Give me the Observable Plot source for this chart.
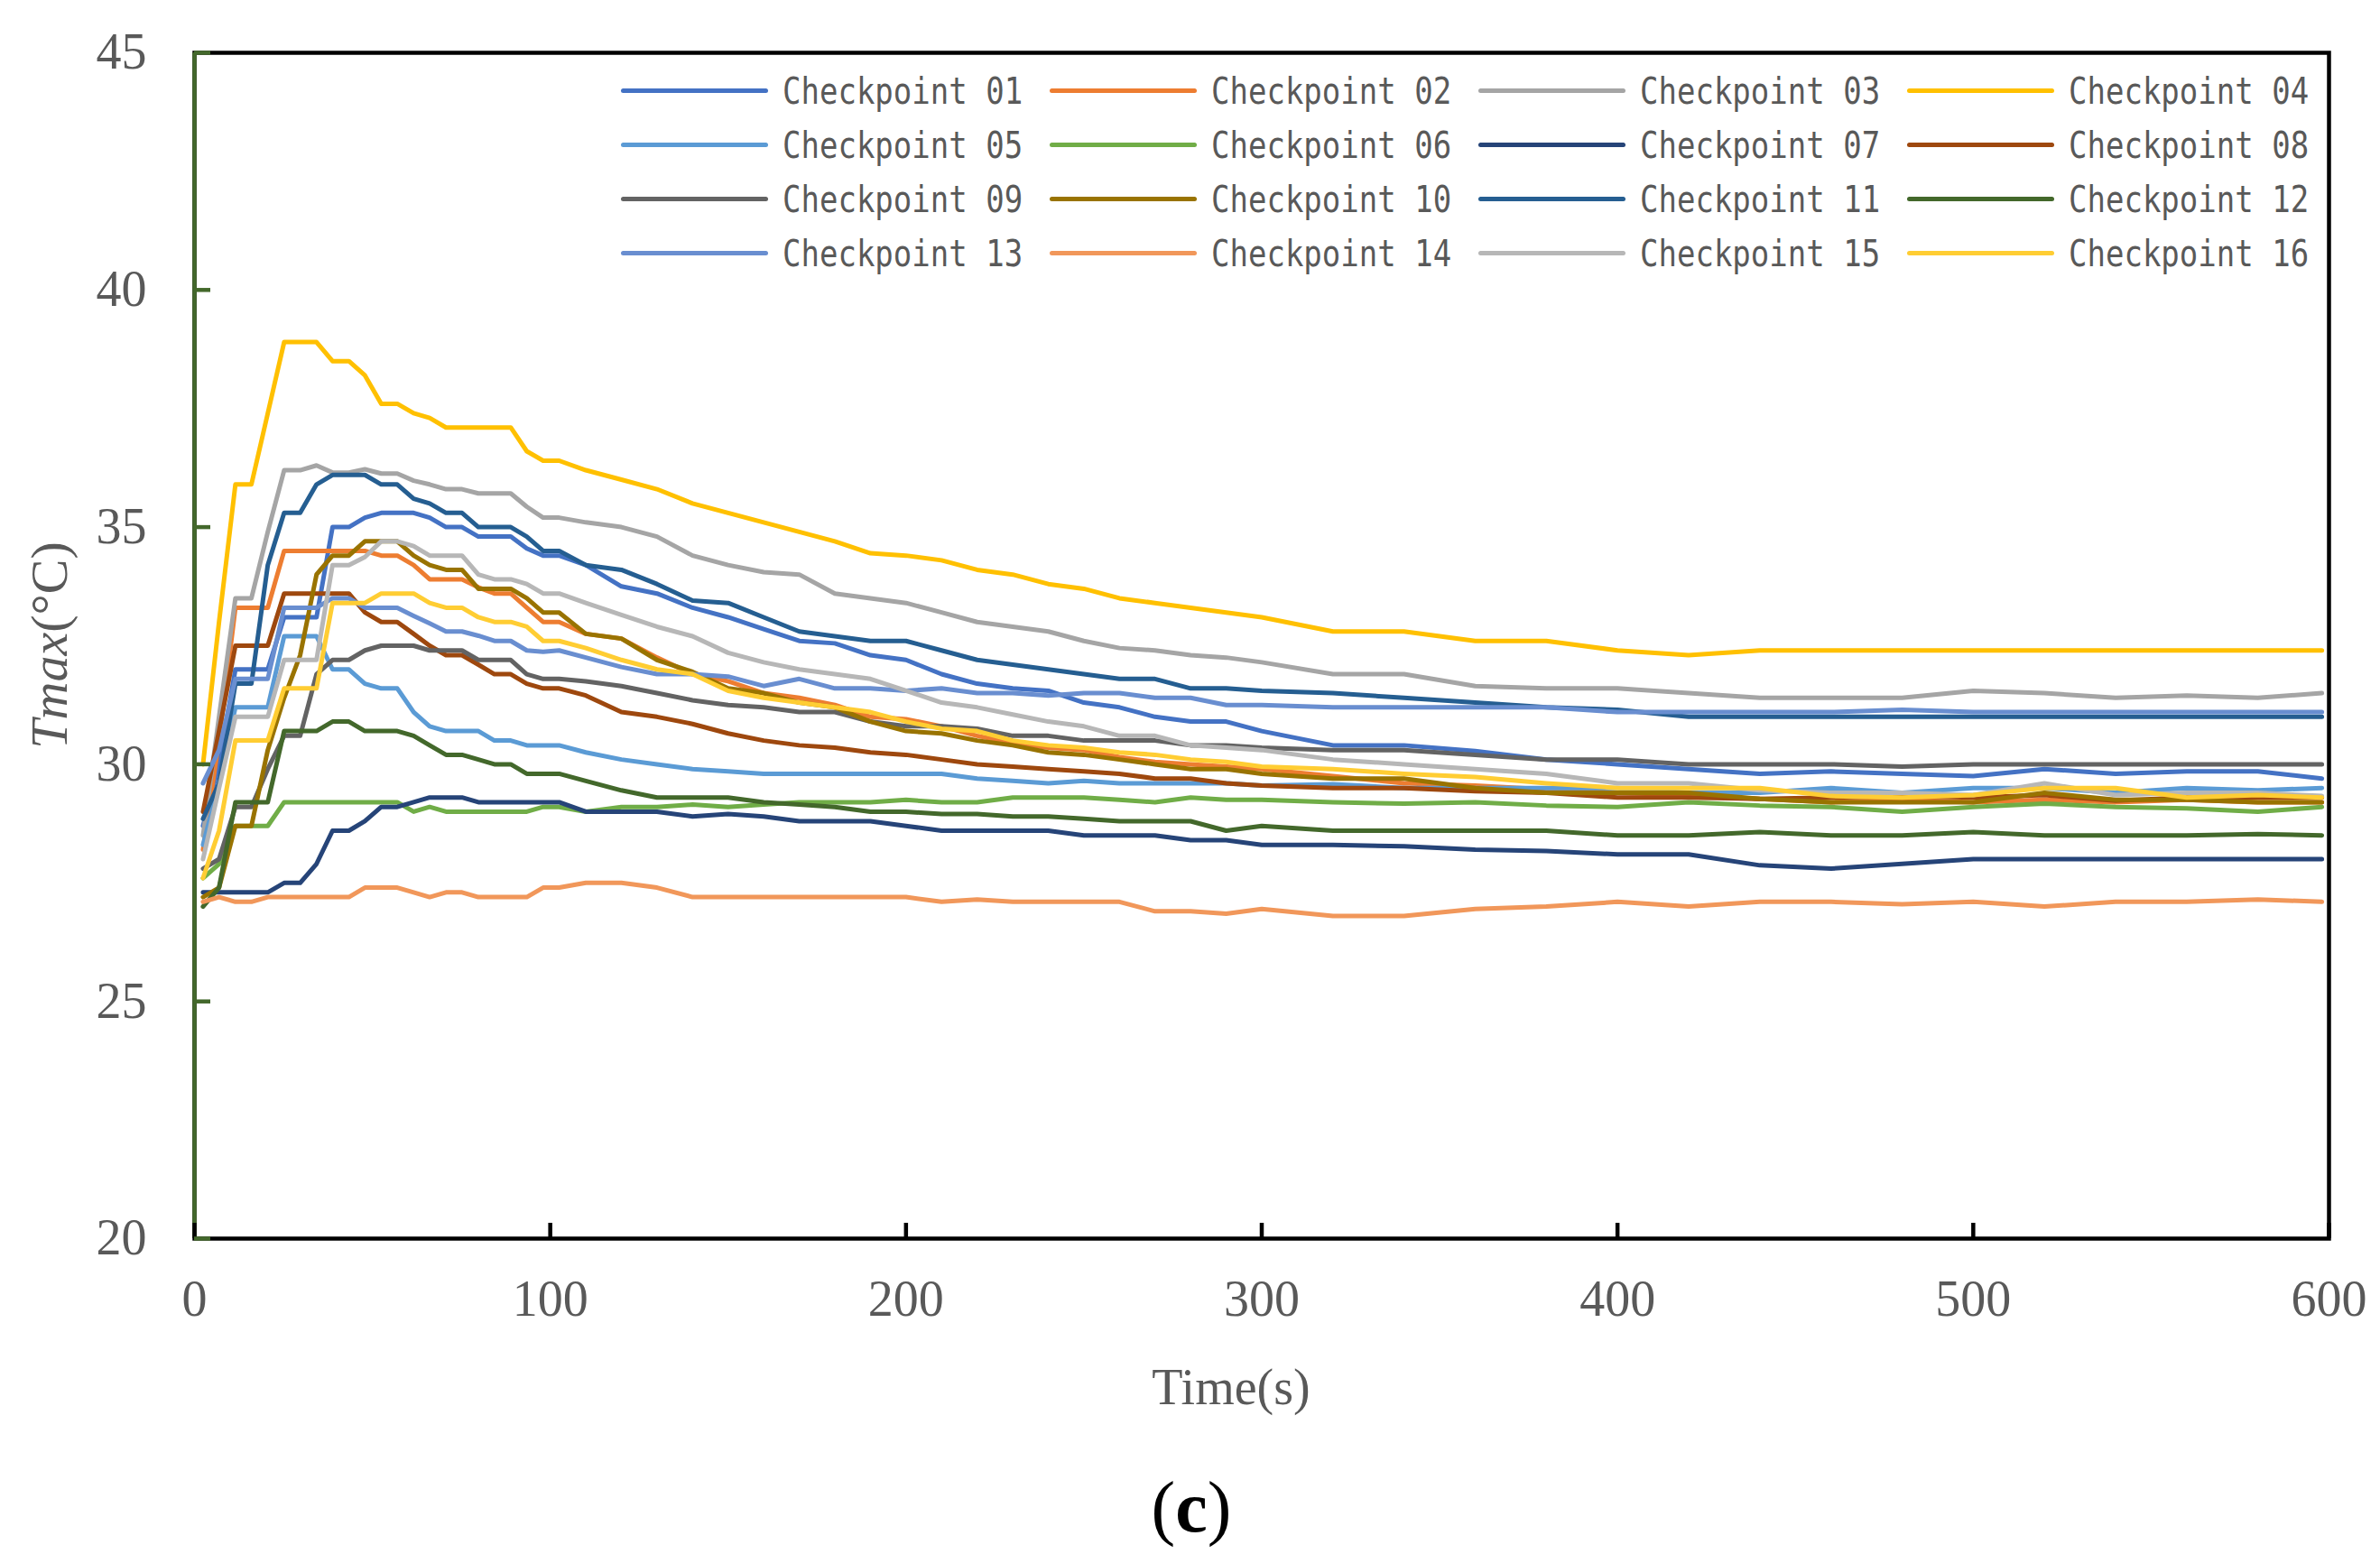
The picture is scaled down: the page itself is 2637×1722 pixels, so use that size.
<!DOCTYPE html>
<html><head><meta charset="utf-8">
<script src="https://cdn.jsdelivr.net/npm/d3@7"></script>
<script src="https://cdn.jsdelivr.net/npm/@observablehq/plot@0.6"></script>
<style>
html,body{margin:0;padding:0;background:#fff;}
#wrap{position:relative;width:2637px;height:1722px;overflow:hidden;background:#fff;}
.leg{position:absolute;display:flex;align-items:center;height:60px;}
.sw{display:inline-block;width:163px;height:5px;border-radius:2.5px;}
.lt{margin-left:16px;font-family:"DejaVu Sans Mono",monospace;font-size:40px;color:#595959;white-space:nowrap;display:inline-block;transform:scaleX(0.85);transform-origin:left center;position:relative;top:1px;}
#cap{position:absolute;top:1630px;left:1320px;transform:translateX(-50%);font-family:"Liberation Serif",serif;font-size:80px;line-height:80px;color:#000;white-space:nowrap;}
</style></head><body><div id="wrap"></div><script>
const time = [2.4,6.9,11.5,16.0,20.6,25.2,29.7,34.3,38.8,43.4,47.9,52.5,57.0,61.6,66.1,70.7,75.2,79.8,84.3,88.9,93.4,98.0,102.5,
  110,120,130,140,150,160,170,180,190,200,210,220,230,240,250,260,270,280,290,300,
  320,340,360,380,400,420,440,460,480,500,520,540,560,580,598];
const cp01 = [28.7,30.0,32.0,32.0,32.0,33.1,33.1,33.1,35.0,35.0,35.2,35.3,35.3,35.3,35.2,35.0,35.0,34.8,34.8,34.8,34.55,34.4,34.4,
  34.2,33.75,33.6,33.3,33.1,32.85,32.6,32.55,32.3,32.2,31.9,31.7,31.6,31.55,31.3,31.2,31.0,30.9,30.9,30.7,
  30.4,30.4,30.28,30.1,30.0,29.9,29.8,29.85,29.8,29.75,29.9,29.8,29.85,29.85,29.7];
const cp02 = [28.2,30.5,33.3,33.3,33.3,34.5,34.5,34.5,34.5,34.5,34.5,34.4,34.4,34.2,33.9,33.9,33.9,33.73,33.6,33.6,33.3,33.0,33.0,
  32.75,32.65,32.25,31.9,31.75,31.5,31.4,31.25,31.0,30.95,30.8,30.6,30.45,30.35,30.3,30.15,30.05,30.0,29.95,29.9,
  29.75,29.6,29.55,29.47,29.4,29.35,29.27,29.2,29.25,29.2,29.25,29.2,29.25,29.2,29.2];
const cp03 = [28.5,31.0,33.5,33.5,34.9,36.2,36.2,36.3,36.15,36.15,36.22,36.13,36.13,35.98,35.9,35.8,35.8,35.71,35.71,35.71,35.43,35.2,35.2,
  35.1,35.0,34.8,34.4,34.2,34.05,34.0,33.6,33.5,33.4,33.2,33.0,32.9,32.8,32.6,32.45,32.4,32.3,32.25,32.15,
  31.9,31.9,31.65,31.6,31.6,31.5,31.4,31.4,31.4,31.55,31.5,31.4,31.45,31.4,31.5];
const cp04 = [30.0,33.0,35.9,35.9,37.4,38.9,38.9,38.9,38.5,38.5,38.2,37.6,37.6,37.4,37.3,37.1,37.1,37.1,37.1,37.1,36.6,36.4,36.4,
  36.2,36.0,35.8,35.5,35.3,35.1,34.9,34.7,34.45,34.4,34.3,34.1,34.0,33.8,33.7,33.5,33.4,33.3,33.2,33.1,
  32.8,32.8,32.6,32.6,32.4,32.3,32.4,32.4,32.4,32.4,32.4,32.4,32.4,32.4,32.4];
const cp05 = [28.3,29.6,31.2,31.2,31.2,32.7,32.7,32.7,32.0,32.0,31.7,31.6,31.6,31.1,30.8,30.7,30.7,30.7,30.5,30.5,30.4,30.4,30.4,
  30.25,30.1,30.0,29.9,29.85,29.8,29.8,29.8,29.8,29.8,29.8,29.7,29.65,29.6,29.65,29.6,29.6,29.6,29.6,29.55,
  29.58,29.5,29.5,29.5,29.5,29.4,29.4,29.5,29.4,29.5,29.5,29.4,29.5,29.45,29.5];
const cp06 = [27.6,27.9,28.7,28.7,28.7,29.2,29.2,29.2,29.2,29.2,29.2,29.2,29.2,29.0,29.1,29.0,29.0,29.0,29.0,29.0,29.0,29.1,29.1,
  29.0,29.1,29.1,29.15,29.1,29.15,29.2,29.2,29.2,29.25,29.2,29.2,29.3,29.3,29.3,29.25,29.2,29.3,29.25,29.25,
  29.2,29.17,29.2,29.13,29.1,29.2,29.13,29.1,29.0,29.1,29.17,29.1,29.07,29.0,29.1];
const cp07 = [27.3,27.3,27.3,27.3,27.3,27.5,27.5,27.9,28.6,28.6,28.8,29.1,29.1,29.2,29.3,29.3,29.3,29.2,29.2,29.2,29.2,29.2,29.2,
  29.0,29.0,29.0,28.9,28.95,28.9,28.8,28.8,28.8,28.7,28.6,28.6,28.6,28.6,28.5,28.5,28.5,28.4,28.4,28.3,
  28.3,28.27,28.2,28.17,28.1,28.1,27.87,27.8,27.9,28.0,28.0,28.0,28.0,28.0,28.0];
const cp08 = [29.0,30.7,32.5,32.5,32.5,33.6,33.6,33.6,33.6,33.6,33.2,33.0,33.0,32.75,32.5,32.3,32.3,32.1,31.9,31.9,31.7,31.6,31.6,
  31.45,31.1,31.0,30.85,30.65,30.5,30.4,30.35,30.25,30.2,30.1,30.0,29.95,29.9,29.85,29.8,29.7,29.7,29.6,29.55,
  29.5,29.5,29.43,29.4,29.3,29.3,29.27,29.3,29.33,29.3,29.35,29.23,29.3,29.3,29.3];
const cp09 = [27.8,28.0,29.1,29.1,29.9,30.6,30.6,31.9,32.2,32.2,32.4,32.5,32.5,32.5,32.4,32.4,32.4,32.2,32.2,32.2,31.9,31.8,31.8,
  31.75,31.65,31.5,31.35,31.25,31.2,31.1,31.1,30.9,30.8,30.8,30.75,30.6,30.6,30.5,30.5,30.5,30.4,30.4,30.35,
  30.3,30.3,30.2,30.1,30.1,30.0,30.0,30.0,29.95,30.0,30.0,30.0,30.0,30.0,30.0];
const cp10 = [27.2,27.4,28.7,28.7,30.3,31.4,32.3,34.0,34.4,34.4,34.7,34.7,34.7,34.4,34.2,34.1,34.1,33.7,33.7,33.7,33.5,33.2,33.2,
  32.75,32.65,32.2,31.95,31.6,31.5,31.3,31.2,30.9,30.7,30.65,30.5,30.4,30.25,30.2,30.1,30.0,29.9,29.9,29.8,
  29.7,29.7,29.5,29.4,29.4,29.4,29.27,29.2,29.2,29.2,29.4,29.25,29.25,29.2,29.2];
const cp11 = [28.85,29.6,31.7,31.7,34.2,35.3,35.3,35.9,36.1,36.1,36.1,35.9,35.9,35.6,35.5,35.3,35.3,35.0,35.0,35.0,34.8,34.5,34.5,
  34.2,34.1,33.8,33.45,33.4,33.1,32.8,32.7,32.6,32.6,32.4,32.2,32.1,32.0,31.9,31.8,31.8,31.6,31.6,31.55,
  31.5,31.4,31.3,31.2,31.15,31.0,31.0,31.0,31.0,31.0,31.0,31.0,31.0,31.0,31.0];
const cp12 = [27.0,27.4,29.2,29.2,29.2,30.7,30.7,30.7,30.9,30.9,30.7,30.7,30.7,30.6,30.4,30.2,30.2,30.1,30.0,30.0,29.8,29.8,29.8,
  29.65,29.45,29.3,29.3,29.3,29.2,29.15,29.1,29.0,29.0,28.95,28.95,28.9,28.9,28.85,28.8,28.8,28.8,28.6,28.7,
  28.6,28.6,28.6,28.6,28.5,28.5,28.57,28.5,28.5,28.57,28.5,28.5,28.5,28.53,28.5];
const cp13 = [29.6,30.3,31.8,31.8,31.8,33.3,33.3,33.3,33.5,33.5,33.3,33.3,33.3,33.13,32.97,32.8,32.8,32.71,32.6,32.6,32.4,32.37,32.4,
  32.25,32.05,31.9,31.9,31.85,31.65,31.8,31.6,31.6,31.55,31.6,31.5,31.5,31.45,31.5,31.5,31.4,31.4,31.25,31.25,
  31.2,31.2,31.2,31.2,31.1,31.1,31.1,31.1,31.15,31.1,31.1,31.1,31.1,31.1,31.1];
const cp14 = [27.1,27.2,27.1,27.1,27.2,27.2,27.2,27.2,27.2,27.2,27.4,27.4,27.4,27.3,27.2,27.3,27.3,27.2,27.2,27.2,27.2,27.4,27.4,
  27.5,27.5,27.4,27.2,27.2,27.2,27.2,27.2,27.2,27.2,27.1,27.15,27.1,27.1,27.1,27.1,26.9,26.9,26.85,26.95,
  26.8,26.8,26.95,27.0,27.1,27.0,27.1,27.1,27.05,27.1,27.0,27.1,27.1,27.15,27.1];
const cp15 = [28.0,29.5,31.0,31.0,31.0,32.2,32.2,32.2,34.2,34.2,34.37,34.7,34.7,34.6,34.4,34.4,34.4,34.0,33.9,33.9,33.8,33.6,33.6,
  33.4,33.15,32.9,32.7,32.35,32.15,32.0,31.9,31.8,31.55,31.3,31.2,31.05,30.9,30.8,30.6,30.6,30.4,30.35,30.3,
  30.1,30.0,29.9,29.8,29.6,29.6,29.45,29.4,29.4,29.35,29.6,29.35,29.4,29.4,29.33];
const cp16 = [27.6,28.6,30.5,30.5,30.5,31.6,31.6,31.6,33.4,33.4,33.4,33.6,33.6,33.6,33.4,33.3,33.3,33.1,33.0,33.0,32.9,32.6,32.6,
  32.45,32.2,32.0,31.9,31.55,31.4,31.3,31.2,31.1,30.9,30.75,30.7,30.5,30.4,30.35,30.25,30.2,30.1,30.05,29.95,
  29.9,29.8,29.73,29.6,29.5,29.5,29.5,29.33,29.3,29.35,29.5,29.5,29.3,29.35,29.3];

const seriesNames = ["Checkpoint 01","Checkpoint 02","Checkpoint 03","Checkpoint 04","Checkpoint 05","Checkpoint 06","Checkpoint 07","Checkpoint 08",
  "Checkpoint 09","Checkpoint 10","Checkpoint 11","Checkpoint 12","Checkpoint 13","Checkpoint 14","Checkpoint 15","Checkpoint 16"];
const seriesColors = ["#4472C4","#ED7D31","#A5A5A5","#FFC000","#5B9BD5","#70AD47","#264478","#9E480E",
  "#636363","#997300","#255E91","#43682B","#698ED0","#F1975A","#B7B7B7","#FFCD33"];
const xTicks = [0,100,200,300,400,500,600];
const yTicks = [20,25,30,35,40,45];
const xTitle = "Time(s)";
const yTitleItalic = "Tmax";
const yTitleRest = "(°C)";
const caption = "c";

const values = [cp01,cp02,cp03,cp04,cp05,cp06,cp07,cp08,cp09,cp10,cp11,cp12,cp13,cp14,cp15,cp16];

const W = 2637, H = 1630, mL = 215, mR = 57, mT = 58, mB = 258;
const plotW = W - mL - mR, plotH = H - mT - mB;
const axisGreen = "#43682B";
const serif = "Liberation Serif";

const marks = [Plot.frame({stroke: "#000", strokeWidth: 4.5})];
values.forEach((v, i) => {
  const data = time.map((t, j) => ({t, T: v[j]}));
  marks.push(Plot.line(data, {x: "t", y: "T", stroke: seriesColors[i], strokeWidth: 5, strokeLinejoin: "round", strokeLinecap: "round"}));
});
marks.push(Plot.ruleX([0], {stroke: axisGreen, strokeWidth: 4.5}));
marks.push(Plot.tickX(xTicks, {x: d => d, stroke: "#000", strokeWidth: 4.5, insetTop: plotH - 17}));
marks.push(Plot.tickY(yTicks, {y: d => d, stroke: axisGreen, strokeWidth: 4.5, insetRight: plotW - 18}));
marks.push(Plot.axisX({ticks: xTicks, tickSize: 0, tickPadding: 46, label: null, fontSize: 56, fontFamily: serif, fontVariant: "normal", fill: "#595959", tickFormat: d => String(d)}));
marks.push(Plot.axisY({ticks: yTicks, tickSize: 0, tickPadding: 53, label: null, fontSize: 56, fontFamily: serif, fontVariant: "normal", fill: "#595959", tickFormat: d => String(d)}));

const svg = Plot.plot({
  width: W, height: H,
  marginLeft: mL, marginRight: mR, marginTop: mT, marginBottom: mB,
  x: {domain: [0, 600]},
  y: {domain: [20, 45]},
  style: {fontFamily: serif, fontSize: "56px", color: "#595959", background: "#fff", overflow: "visible"},
  marks
});
const wrap = document.getElementById("wrap");
wrap.appendChild(svg);

const s = d3.select(svg);
const ylab = s.append("text")
  .attr("transform", "translate(74,715) rotate(-90)")
  .attr("text-anchor", "middle")
  .attr("fill", "#595959")
  .attr("font-family", serif)
  .attr("font-size", 58);
ylab.append("tspan").attr("font-style", "italic").text(yTitleItalic);
ylab.append("tspan").text(yTitleRest);
s.append("text")
  .attr("x", 1364).attr("y", 1556)
  .attr("text-anchor", "middle")
  .attr("fill", "#595959")
  .attr("font-family", serif)
  .attr("font-size", 56)
  .text(xTitle);

// legend (4 x 4 grid inside the plot area)
const colX = [688, 1163, 1638, 2113];
const rowY = [100, 160, 220, 280];
seriesNames.forEach((name, i) => {
  const r = Math.floor(i / 4), c = i % 4;
  const item = document.createElement("div");
  item.className = "leg";
  item.style.left = colX[c] + "px";
  item.style.top = (rowY[r] - 30) + "px";
  const sw = document.createElement("span");
  sw.className = "sw";
  sw.style.background = seriesColors[i];
  const lt = document.createElement("span");
  lt.className = "lt";
  lt.textContent = name;
  item.appendChild(sw);
  item.appendChild(lt);
  wrap.appendChild(item);
});

// caption below the chart
const cap = document.createElement("div");
cap.id = "cap";
cap.append("(");
const b = document.createElement("b");
b.textContent = caption;
cap.appendChild(b);
cap.append(")");
wrap.appendChild(cap);
</script></body></html>
